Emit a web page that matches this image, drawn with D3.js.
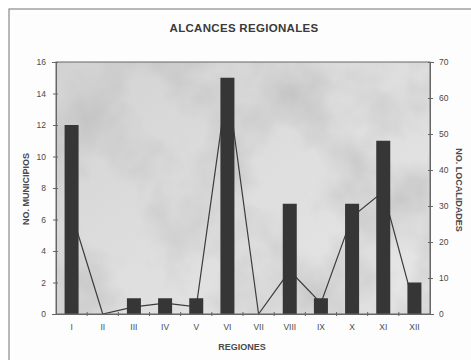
<!DOCTYPE html>
<html><head><meta charset="utf-8">
<script src="https://cdn.jsdelivr.net/npm/d3@7"></script>
<style>body{margin:0;background:#fff}svg{display:block}</style>
</head><body>
<svg id="c" width="471" height="360"></svg>
<script>
const categories = ["I","II","III","IV","V","VI","VII","VIII","IX","X","XI","XII"];
const municipios = [12,0,1,1,1,15,0,7,1,7,11,2];
const localidades = [28,0,2,3,2,64,0,12,3,27,34,2];
const leftTicks = [0,2,4,6,8,10,12,14,16];
const rightTicks = [0,10,20,30,40,50,60,70];

const svg = d3.select("#c");
const m = {l:56, r:430, t:62, b:314};
const font = "Arial, 'Liberation Sans', sans-serif";
const ink = "#3a3a3a";
const txt = "#4a4a4a";

// frame
svg.append("rect").attr("x",9).attr("y",9).attr("width",480).attr("height",400)
  .attr("fill","#fdfdfd").attr("stroke","#8a8a8a").attr("stroke-width",1.2);

// texture filter for plot background
const defs = svg.append("defs");
const f = defs.append("filter").attr("id","tex").attr("x",0).attr("y",0).attr("width","100%").attr("height","100%");
f.append("feTurbulence").attr("type","fractalNoise").attr("baseFrequency","0.012").attr("numOctaves",4).attr("seed",7).attr("result","n");
f.append("feColorMatrix").attr("in","n").attr("type","matrix")
  .attr("values","0 0 0 0 0.45  0 0 0 0 0.45  0 0 0 0 0.45  2.2 0 0 0 -0.9").attr("result","c");
f.append("feComposite").attr("in","c").attr("in2","SourceGraphic").attr("operator","in");
const lg = defs.append("linearGradient").attr("id","bg").attr("x1",0).attr("y1",0).attr("x2",1).attr("y2",1);
lg.append("stop").attr("offset","0").attr("stop-color","#d2d2d2");
lg.append("stop").attr("offset","0.5").attr("stop-color","#dedede");
lg.append("stop").attr("offset","1").attr("stop-color","#e6e6e6");

svg.append("rect").attr("x",m.l).attr("y",m.t).attr("width",m.r-m.l).attr("height",m.b-m.t).attr("fill","url(#bg)");
svg.append("rect").attr("x",m.l).attr("y",m.t).attr("width",m.r-m.l).attr("height",m.b-m.t).attr("fill","#fff").attr("filter","url(#tex)").attr("opacity",0.6);

const xc = d3.scaleBand().domain(categories).range([m.l, m.r]);
const yL = d3.scaleLinear().domain([0,16]).range([m.b, m.t]);
const yR = d3.scaleLinear().domain([0,70]).range([m.b, m.t]);

// line
const line = d3.line().x((d,i) => xc(categories[i]) + xc.bandwidth()/2).y(d => yR(d));
svg.append("path").datum(localidades).attr("d", line).attr("fill","none")
  .attr("stroke","#3c3c3c").attr("stroke-width",1.2);

// bars (drawn over the line)
svg.append("g").selectAll("rect").data(categories).join("rect")
  .attr("x", d => xc(d) + xc.bandwidth()/2 - 7)
  .attr("width", 14)
  .attr("y", (d,i) => yL(municipios[i]))
  .attr("height", (d,i) => m.b - yL(municipios[i]))
  .attr("fill", "#363636");

// plot border
svg.append("rect").attr("x",m.l).attr("y",m.t).attr("width",m.r-m.l).attr("height",m.b-m.t)
  .attr("fill","none").attr("stroke","#666").attr("stroke-width",1);

// axes
const gl = svg.append("g").attr("transform",`translate(${m.l},0)`)
  .call(d3.axisLeft(yL).tickValues(leftTicks).tickSize(4).tickPadding(6));
const gr = svg.append("g").attr("transform",`translate(${m.r},0)`)
  .call(d3.axisRight(yR).tickValues(rightTicks).tickSize(4).tickPadding(5));
const gb = svg.append("g").attr("transform",`translate(0,${m.b})`)
  .call(d3.axisBottom(xc).tickSize(0).tickPadding(10));
svg.append("g").selectAll("line").data(categories.slice(1)).join("line")
  .attr("x1", d => xc(d)).attr("x2", d => xc(d)).attr("y1", m.b-2).attr("y2", m.b+2)
  .attr("stroke","#666");

[gl,gr,gb].forEach(g => {
  g.attr("color", "#666");
  g.select(".domain").attr("stroke","#666");
  g.selectAll(".tick line").attr("stroke","#666");
  g.selectAll("text").attr("font-family",font).attr("font-size",8.5).attr("fill",txt);
});
gl.selectAll(".tick line").attr("x2",-3).attr("x1",2);
gr.selectAll(".tick line").attr("x1",-2).attr("x2",3);

// titles
svg.append("text").attr("x",244).attr("y",32).attr("text-anchor","middle")
  .attr("font-family",font).attr("font-weight","bold").attr("font-size",11.5).attr("fill",ink)
  .attr("letter-spacing",0.3)
  .text("ALCANCES REGIONALES");
svg.append("text").attr("x",242).attr("y",350).attr("text-anchor","middle")
  .attr("font-family",font).attr("font-weight","bold").attr("font-size",9).attr("fill",txt)
  .text("REGIONES");
svg.append("text").attr("transform","translate(29,189) rotate(-90)").attr("text-anchor","middle")
  .attr("font-family",font).attr("font-weight","bold").attr("font-size",9).attr("fill",txt)
  .text("NO. MUNICIPIOS");
svg.append("text").attr("transform","translate(456,190) rotate(90)").attr("text-anchor","middle")
  .attr("font-family",font).attr("font-weight","bold").attr("font-size",9).attr("fill",txt)
  .text("NO. LOCALIDADES");
</script>
</body></html>
